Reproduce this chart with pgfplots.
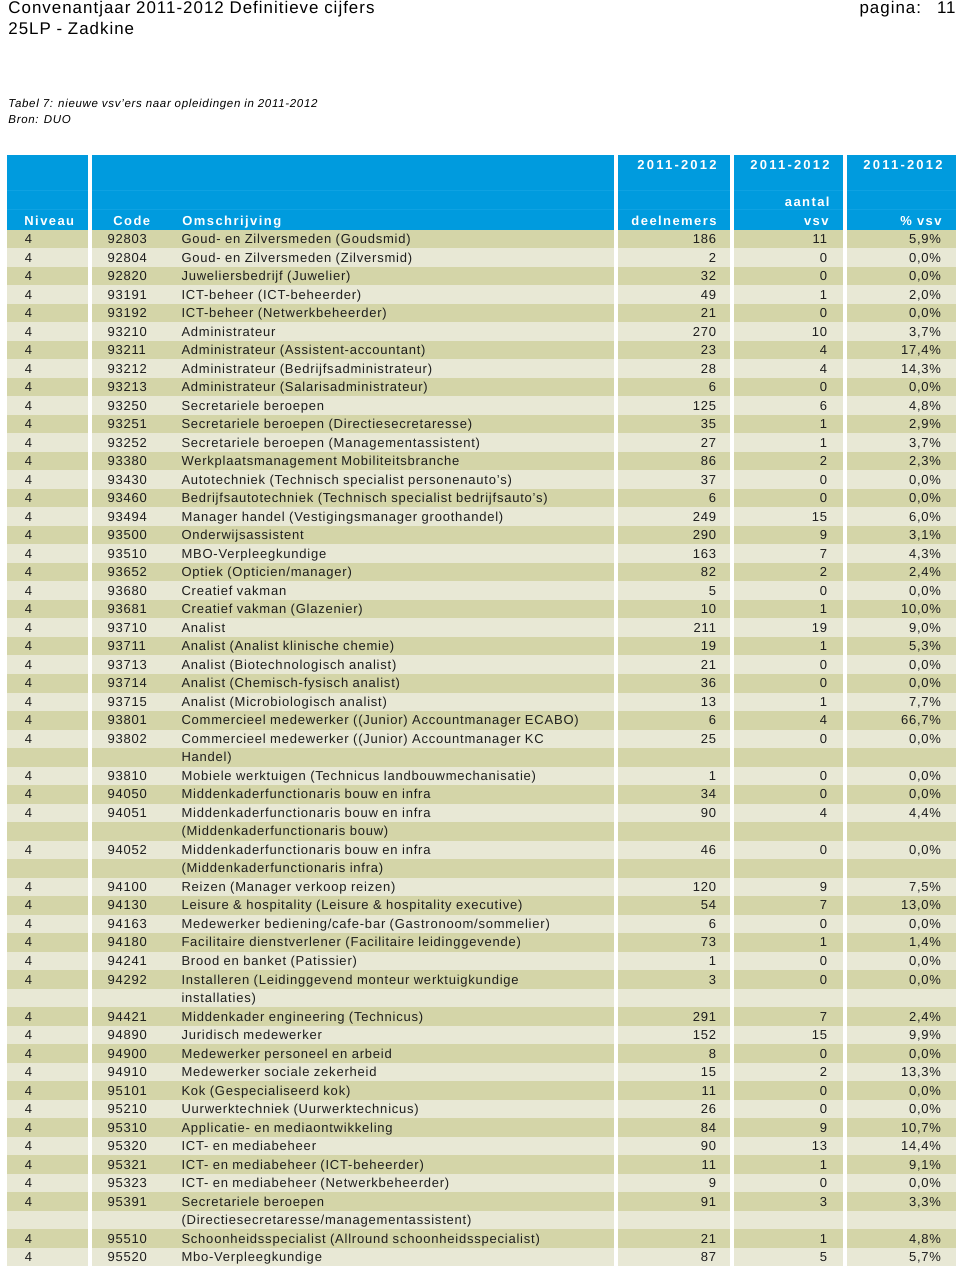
\documentclass[border=0pt]{standalone}
\usepackage{pgfplots}
\pgfplotsset{compat=1.18}
\usepackage{pgfplotstable}
\usepackage{fontspec}
\setmainfont{Liberation Sans}[LetterSpace=6]
\newfontfamily\hdfont{Liberation Sans}[LetterSpace=11]
\newfontfamily\yrfont{Liberation Sans}[LetterSpace=17]
\definecolor{hdblue}{RGB}{0,155,222}
\definecolor{hdline}{RGB}{14,162,226}
\definecolor{stripeA}{RGB}{212,213,168}
\definecolor{stripeB}{RGB}{232,232,213}
\definecolor{txt}{RGB}{30,30,30}
\newcommand\cellfont{\fontsize{6.5}{7.8}\selectfont}

% line index (1..56); wrapped descriptions continue on the next line
\pgfplotstableread[col sep=semicolon]{
i;niv;code;oms;deel;vsv;pct
1;4;92803;Goud- en Zilversmeden (Goudsmid);186;11;5.9
2;4;92804;Goud- en Zilversmeden (Zilversmid);2;0;0.0
3;4;92820;Juweliersbedrijf (Juwelier);32;0;0.0
4;4;93191;ICT-beheer (ICT-beheerder);49;1;2.0
5;4;93192;ICT-beheer (Netwerkbeheerder);21;0;0.0
6;4;93210;Administrateur;270;10;3.7
7;4;93211;Administrateur (Assistent-accountant);23;4;17.4
8;4;93212;Administrateur (Bedrijfsadministrateur);28;4;14.3
9;4;93213;Administrateur (Salarisadministrateur);6;0;0.0
10;4;93250;Secretariele beroepen;125;6;4.8
11;4;93251;Secretariele beroepen (Directiesecretaresse);35;1;2.9
12;4;93252;Secretariele beroepen (Managementassistent);27;1;3.7
13;4;93380;Werkplaatsmanagement Mobiliteitsbranche;86;2;2.3
14;4;93430;Autotechniek (Technisch specialist personenauto's);37;0;0.0
15;4;93460;Bedrijfsautotechniek (Technisch specialist bedrijfsauto's);6;0;0.0
16;4;93494;Manager handel (Vestigingsmanager groothandel);249;15;6.0
17;4;93500;Onderwijsassistent;290;9;3.1
18;4;93510;MBO-Verpleegkundige;163;7;4.3
19;4;93652;Optiek (Opticien/manager);82;2;2.4
20;4;93680;Creatief vakman;5;0;0.0
21;4;93681;Creatief vakman (Glazenier);10;1;10.0
22;4;93710;Analist;211;19;9.0
23;4;93711;Analist (Analist klinische chemie);19;1;5.3
24;4;93713;Analist (Biotechnologisch analist);21;0;0.0
25;4;93714;Analist (Chemisch-fysisch analist);36;0;0.0
26;4;93715;Analist (Microbiologisch analist);13;1;7.7
27;4;93801;Commercieel medewerker ((Junior) Accountmanager ECABO);6;4;66.7
28;4;93802;Commercieel medewerker ((Junior) Accountmanager KC;25;0;0.0
30;4;93810;Mobiele werktuigen (Technicus landbouwmechanisatie);1;0;0.0
31;4;94050;Middenkaderfunctionaris bouw en infra;34;0;0.0
32;4;94051;Middenkaderfunctionaris bouw en infra;90;4;4.4
34;4;94052;Middenkaderfunctionaris bouw en infra;46;0;0.0
36;4;94100;Reizen (Manager verkoop reizen);120;9;7.5
37;4;94130;Leisure \& hospitality (Leisure \& hospitality executive);54;7;13.0
38;4;94163;Medewerker bediening/cafe-bar (Gastronoom/sommelier);6;0;0.0
39;4;94180;Facilitaire dienstverlener (Facilitaire leidinggevende);73;1;1.4
40;4;94241;Brood en banket (Patissier);1;0;0.0
41;4;94292;Installeren (Leidinggevend monteur werktuigkundige;3;0;0.0
43;4;94421;Middenkader engineering (Technicus);291;7;2.4
44;4;94890;Juridisch medewerker;152;15;9.9
45;4;94900;Medewerker personeel en arbeid;8;0;0.0
46;4;94910;Medewerker sociale zekerheid;15;2;13.3
47;4;95101;Kok (Gespecialiseerd kok);11;0;0.0
48;4;95210;Uurwerktechniek (Uurwerktechnicus);26;0;0.0
49;4;95310;Applicatie- en mediaontwikkeling;84;9;10.7
50;4;95320;ICT- en mediabeheer;90;13;14.4
51;4;95321;ICT- en mediabeheer (ICT-beheerder);11;1;9.1
52;4;95323;ICT- en mediabeheer (Netwerkbeheerder);9;0;0.0
53;4;95391;Secretariele beroepen;91;3;3.3
55;4;95510;Schoonheidsspecialist (Allround schoonheidsspecialist);21;1;4.8
56;4;95520;Mbo-Verpleegkundige;87;5;5.7
}\records

\pgfplotstableread[col sep=semicolon]{
i;oms
29;Handel)
33;(Middenkaderfunctionaris bouw)
35;(Middenkaderfunctionaris infra)
42;installaties)
54;(Directiesecretaresse/managementassistent)
}\wraps

\pgfplotsset{
  cell/.style={only marks, mark=none, nodes near coords, point meta=explicit symbolic,
    nodes near coords style={font=\cellfont, text=txt, inner sep=0pt, outer sep=0pt, anchor=base west}},
}

\begin{document}
\begin{tikzpicture}
\begin{axis}[scale only axis, width=480pt, height=636pt,
  xmin=0, xmax=960, ymin=0, ymax=1272, y dir=reverse,
  hide axis, clip=false]

% header block and row stripes
\fill[hdblue] (axis cs:7,155) rectangle (axis cs:956,229.75);
\draw[hdline, line width=0.4pt] (axis cs:7,190) -- (axis cs:956,190);
\draw[hdline, line width=0.4pt] (axis cs:7,209) -- (axis cs:956,209);
\pgfplotsinvokeforeach{1,3,...,55}{
  \fill[stripeA] (axis cs:7,{229.75+18.51*(#1-1)}) rectangle (axis cs:956,{229.75+18.51*#1});
}
\pgfplotsinvokeforeach{2,4,...,56}{
  \fill[stripeB] (axis cs:7,{229.75+18.51*(#1-1)}) rectangle (axis cs:956,{229.75+18.51*#1});
}
% white column gaps
\fill[white] (axis cs:87.5,150) rectangle (axis cs:91.5,1272);
\fill[white] (axis cs:613.5,150) rectangle (axis cs:618,1272);
\fill[white] (axis cs:730,150) rectangle (axis cs:734,1272);
\fill[white] (axis cs:843,150) rectangle (axis cs:847,1272);

% page titles
\node[anchor=base west, inner sep=0pt, font=\fontsize{8.45}{9}\selectfont] at (axis cs:8,13.5) {Convenantjaar 2011-2012 Definitieve cijfers};
\node[anchor=base west, inner sep=0pt, font=\fontsize{8.45}{9}\selectfont] at (axis cs:8,35) {25LP - Zadkine};
\node[anchor=base east, inner sep=0pt, font=\fontsize{8.45}{9}\selectfont] at (axis cs:956,13.5) {pagina:\hspace{8pt}11};
\node[anchor=base west, inner sep=0pt, font=\fontsize{5.75}{7}\selectfont\itshape] at (axis cs:8,107.3) {Tabel 7: nieuwe vsv'ers naar opleidingen in 2011-2012};
\node[anchor=base west, inner sep=0pt, font=\fontsize{5.75}{7}\selectfont\itshape] at (axis cs:8,124) {Bron: DUO};

% column headers
\begin{scope}[every node/.style={inner sep=0pt, text=white, font=\hdfont\bfseries\fontsize{6.5}{7.8}\selectfont}]
\node[anchor=base west] at (axis cs:24,226) {Niveau};
\node[anchor=base west] at (axis cs:113,226) {Code};
\node[anchor=base west] at (axis cs:182,226) {Omschrijving};
\node[anchor=base east] at (axis cs:717,226) {deelnemers};
\node[anchor=base east] at (axis cs:829,226) {vsv};
\node[anchor=base east] at (axis cs:942,226) {\%\ vsv};
\node[anchor=base east] at (axis cs:830,207) {aantal};
\node[anchor=base east, font=\yrfont\bfseries\fontsize{6.5}{7.8}\selectfont] at (axis cs:717,170) {2011-2012};
\node[anchor=base east, font=\yrfont\bfseries\fontsize{6.5}{7.8}\selectfont] at (axis cs:830,170) {2011-2012};
\node[anchor=base east, font=\yrfont\bfseries\fontsize{6.5}{7.8}\selectfont] at (axis cs:943,170) {2011-2012};
\end{scope}

% table body
\addplot[cell] table[x expr=25, y expr={243.6+18.51*(\thisrow{i}-1)}, meta=niv] {\records};
\addplot[cell] table[x expr=107.5, y expr={243.6+18.51*(\thisrow{i}-1)}, meta=code] {\records};
\addplot[cell] table[x expr=181.5, y expr={243.6+18.51*(\thisrow{i}-1)}, meta=oms] {\records};
\addplot[cell] table[x expr=181.5, y expr={243.6+18.51*(\thisrow{i}-1)}, meta=oms] {\wraps};
\addplot[cell, nodes near coords style={anchor=base east}] table[x expr=716, y expr={243.6+18.51*(\thisrow{i}-1)}, meta=deel] {\records};
\addplot[cell, nodes near coords style={anchor=base east}] table[x expr=827, y expr={243.6+18.51*(\thisrow{i}-1)}, meta=vsv] {\records};
\addplot[cell, point meta=explicit,
  nodes near coords={\pgfmathprintnumber[fixed, fixed zerofill, precision=1, use comma, assume math mode=true]{\pgfplotspointmeta}\%},
  nodes near coords style={anchor=base east}] table[x expr=941, y expr={243.6+18.51*(\thisrow{i}-1)}, meta=pct] {\records};

\end{axis}
\pgfresetboundingbox
\useasboundingbox (current axis.south west) rectangle (current axis.north east);
\end{tikzpicture}
\end{document}
